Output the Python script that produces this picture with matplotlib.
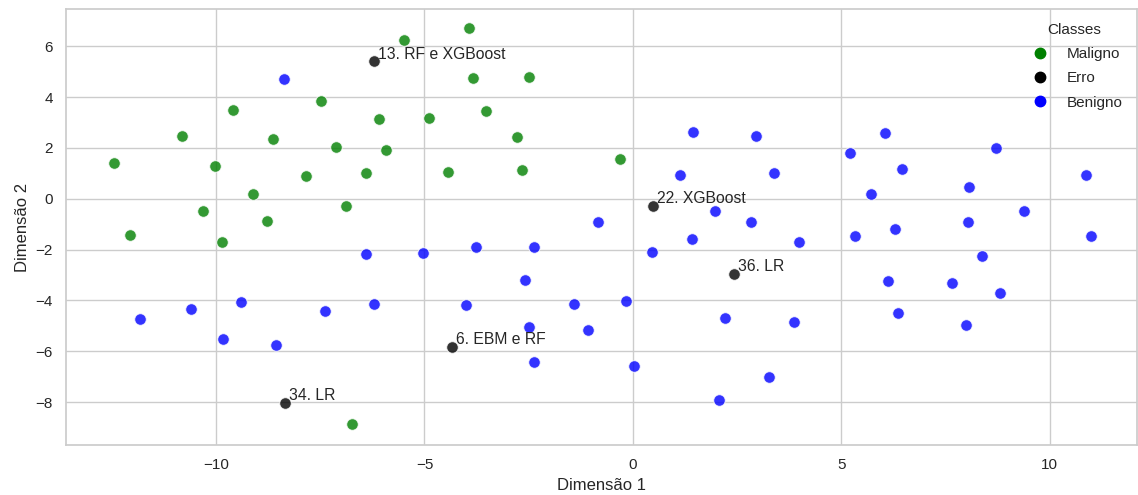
import matplotlib
matplotlib.use("Agg")
import matplotlib.pyplot as plt
from matplotlib.lines import Line2D
import seaborn as sns

# --- data ---
maligno_x = [-12.46, -10.82, -9.59, -10.03, -8.63, -7.49, -6.08, -7.12, -5.93, -7.84,
             -6.41, -9.12, -10.32, -8.79, -6.89, -12.07, -9.86, -6.73,
             -5.49, -3.94, -3.84, -2.50, -3.53, -4.89, -2.78, -0.30, -4.43, -2.65]
maligno_y = [1.40, 2.48, 3.50, 1.30, 2.34, 3.84, 3.13, 2.03, 1.93, 0.91,
             1.02, 0.20, -0.48, -0.87, -0.27, -1.43, -1.70, -8.88,
             6.24, 6.72, 4.74, 4.78, 3.46, 3.18, 2.42, 1.57, 1.07, 1.15]

benigno_x = [-8.37, 1.43, 2.95, 1.13, 3.38, 1.97, 2.84, -0.84, 1.42, -3.77,
             -2.37, -5.03, 0.45, 6.05, 5.21, 8.71, 6.45, 5.72, 8.06, 10.87,
             9.38, 8.05, 5.33, 6.28, 3.99, 10.99, 8.37, 6.13, 7.65, 8.81,
             6.36, 8.00, 3.86, 3.27, -2.59, -4.01, -1.42, -0.17, 2.21, -2.49,
             -1.08, -2.37, 0.02, 2.06, -6.41, -6.20, -7.39, -9.40, -10.60, -11.83,
             -9.83, -8.57]
benigno_y = [4.72, 2.63, 2.47, 0.92, 1.00, -0.47, -0.93, -0.93, -1.60, -1.89,
             -1.89, -2.12, -2.08, 2.60, 1.79, 2.00, 1.19, 0.19, 0.45, 0.95,
             -0.48, -0.93, -1.46, -1.19, -1.70, -1.48, -2.24, -3.24, -3.30, -3.72,
             -4.51, -4.97, -4.84, -7.02, -3.18, -4.18, -4.13, -4.04, -4.69, -5.06,
             -5.17, -6.44, -6.58, -7.92, -2.19, -4.14, -4.42, -4.05, -4.33, -4.73,
             -5.53, -5.77]

erro_x = [-6.21, 0.48, 2.42, -4.34, -8.34]
erro_y = [5.41, -0.27, -2.95, -5.83, -8.03]
erro_labels = ["13. RF e XGBoost", "22. XGBoost", "36. LR", "6. EBM e RF", "34. LR"]

classes = ["Maligno", "Erro", "Benigno"]
class_colors = ["green", "black", "blue"]

# --- style ---
sns.set_theme(style="whitegrid")
plt.rcParams['font.family'] = ['Liberation Sans', 'DejaVu Sans']

fig = plt.figure(figsize=(11.38, 4.95), dpi=100)
ax = fig.add_axes([0.058, 0.101, 0.941, 0.881])

series = [(maligno_x, maligno_y), (erro_x, erro_y), (benigno_x, benigno_y)]
for (xs, ys), c in zip(series, class_colors):
    ax.scatter(xs, ys, s=70, color=c, alpha=0.8, edgecolor="white", linewidth=0.75, zorder=3)

for x, y, lab in zip(erro_x, erro_y, erro_labels):
    ax.text(x + 0.1, y + 0.1, lab, fontsize=11.3, color="#262626", zorder=4)

ax.set_xlim(-13.6, 12.09)
ax.set_ylim(-9.69, 7.47)
ax.set_xticks([-10, -5, 0, 5, 10])
ax.set_yticks([-8, -6, -4, -2, 0, 2, 4, 6])
ax.set_xlabel("Dimensão 1")
ax.set_ylabel("Dimensão 2")

handles = [Line2D([0], [0], marker="o", linestyle="", color=c, markersize=7.5)
           for c in class_colors]
ax.legend(handles, classes, title="Classes", loc="upper right", frameon=False,
          fontsize=11, title_fontsize=11, labelspacing=0.68,
          borderpad=0.73, borderaxespad=0.17)

fig.savefig("out.png", dpi=100)
